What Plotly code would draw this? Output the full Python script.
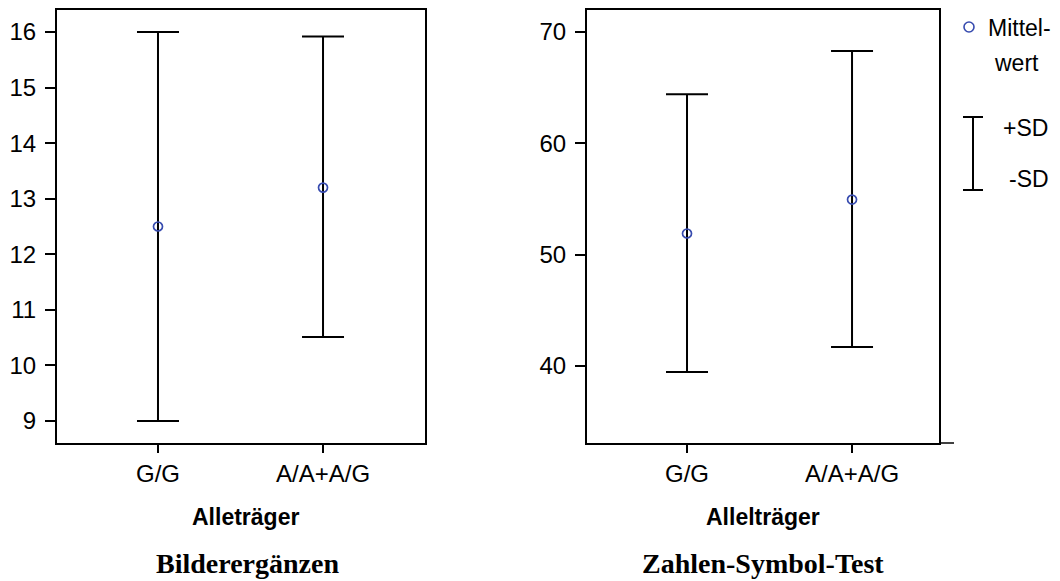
import plotly.graph_objects as go

categories = ["G/G", "A/A+A/G"]
cat_pos = [0, 1]

bild_mean = [12.5, 13.2]
bild_upper = [16.0, 15.92]
bild_lower = [9.0, 10.51]

zahl_mean = [51.9, 54.95]
zahl_upper = [64.4, 68.3]
zahl_lower = [39.45, 41.7]

bild_ticks = [9, 10, 11, 12, 13, 14, 15, 16]
zahl_ticks = [40, 50, 60, 70]

# page body has an 8px margin: the figure starts at (8, 8) in the window
OFF = 8
W, H = 1060 - OFF, 581 - OFF
MARK = "rgb(55,75,175)"
FONT = "Liberation Sans, Arial, sans-serif"
SERIF = "Liberation Serif, Times New Roman, serif"


def px(x):
    return (x - OFF) / W


def py(y):
    return 1 - (y - OFF) / H


fig = go.Figure()


def add_panel(xa, ya, mean, upper, lower):
    fig.add_trace(go.Scatter(
        x=cat_pos, y=mean, xaxis=xa, yaxis=ya, mode="markers",
        marker=dict(symbol="circle-open", size=9, color=MARK, line=dict(width=1.7, color=MARK)),
        error_y=dict(type="data", symmetric=False,
                     array=[u - m for u, m in zip(upper, mean)],
                     arrayminus=[m - l for m, l in zip(mean, lower)],
                     color="black", thickness=2, width=21),
        showlegend=False, hoverinfo="skip"))


add_panel("x", "y", bild_mean, bild_upper, bild_lower)
add_panel("x2", "y2", zahl_mean, zahl_upper, zahl_lower)

ydom = [py(443), py(10)]
axis_common = dict(showline=True, linecolor="black", linewidth=2, mirror=True,
                   showgrid=False, zeroline=False, ticks="outside", tickcolor="black",
                   tickwidth=1.5, tickfont=dict(family=FONT, size=24, color="black"))

fig.update_layout(
    width=W, height=H, margin=dict(l=0, r=0, t=0, b=0),
    paper_bgcolor="white", plot_bgcolor="white",
    xaxis=dict(domain=[px(57), px(425)], anchor="y", range=[-0.612, 1.618],
               tickvals=cat_pos, ticktext=categories, ticklen=8, **axis_common),
    yaxis=dict(domain=ydom, anchor="x", range=[8.604, 16.396],
               tickvals=bild_ticks, ticklen=10, ticklabelstandoff=4, **axis_common),
    xaxis2=dict(domain=[px(587), px(939)], anchor="y2", range=[-0.606, 1.527],
                tickvals=cat_pos, ticktext=categories, ticklen=8, **axis_common),
    yaxis2=dict(domain=ydom, anchor="x2", range=[33.08, 71.98],
                tickvals=zahl_ticks, ticklen=10, ticklabelstandoff=4, **axis_common),
)

# extension of right panel x-axis line
fig.add_shape(type="line", xref="paper", yref="paper", x0=px(939), x1=px(954),
              y0=py(443), y1=py(443), line=dict(color="black", width=1.5))


def ann(text, x, y, size, bold=False, family=FONT, xanchor="center"):
    fig.add_annotation(text=("<b>%s</b>" % text) if bold else text, x=px(x), y=py(y),
                       xref="paper", yref="paper", showarrow=False, xanchor=xanchor,
                       yanchor="middle", font=dict(family=family, size=size, color="black"))


ann("Alleträger", 245, 517, 23, bold=True)
ann("Allelträger", 763, 517, 23, bold=True)
ann("Bilderergänzen", 247, 563, 28, bold=True, family=SERIF)
ann("Zahlen-Symbol-Test", 763, 563, 28, bold=True, family=SERIF)

# legend
fig.add_shape(type="circle", xref="paper", yref="paper",
              x0=px(964), x1=px(974), y0=py(32), y1=py(22),
              line=dict(color=MARK, width=1.6))
ann("Mittel-", 986, 28, 23, xanchor="left")
ann("wert", 1016, 63, 23)
fig.add_shape(type="line", xref="paper", yref="paper", x0=px(973), x1=px(973),
              y0=py(190), y1=py(117), line=dict(color="black", width=2))
fig.add_shape(type="line", xref="paper", yref="paper", x0=px(963), x1=px(983),
              y0=py(117), y1=py(117), line=dict(color="black", width=2))
fig.add_shape(type="line", xref="paper", yref="paper", x0=px(963), x1=px(983),
              y0=py(190), y1=py(190), line=dict(color="black", width=2))
ann("+SD", 1001, 128, 23, xanchor="left")
ann("-SD", 1007, 179, 23, xanchor="left")

fig.write_html("out.html")
